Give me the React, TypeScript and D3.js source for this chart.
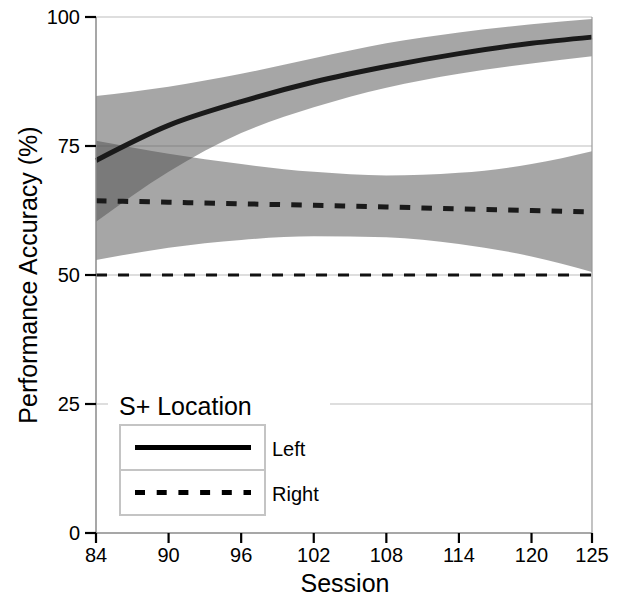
import React from "react";
import * as d3 from "d3";

const sessions = [84, 90, 96, 102, 108, 114, 120, 125];
const leftMean = [72.2, 79.0, 83.6, 87.4, 90.4, 92.9, 94.9, 96.1];
const leftUpper = [84.7, 86.5, 89.0, 92.0, 94.9, 97.0, 98.6, 99.6];
const leftLower = [60.3, 70.0, 77.5, 82.5, 86.3, 89.0, 91.0, 92.4];
const rightMean = [64.4, 64.1, 63.8, 63.5, 63.2, 62.8, 62.5, 62.2];
const rightUpper = [76.0, 73.5, 71.5, 70.0, 69.3, 69.8, 71.5, 74.0];
const rightLower = [52.9, 55.3, 56.8, 57.5, 57.3, 56.0, 53.6, 50.6];
const xTicks = [84, 90, 96, 102, 108, 114, 120, 125];
const yTicks = [0, 25, 50, 75, 100];
const chance = 50;
const legendItems = ["Left", "Right"];

const W = 619, H = 597;
const x0 = 96, x1 = 592, yTop = 17, yBot = 533;
const font = "Liberation Sans, Arial, Helvetica, sans-serif";

export default function App() {
  const x = d3.scaleLinear().domain([84, 125]).range([x0, x1]);
  const y = d3.scaleLinear().domain([0, 100]).range([yBot, yTop]);
  const mk = (vals: number[]) =>
    d3.line<number>().x((_, i) => x(sessions[i])).y((v) => y(v)).curve(d3.curveMonotoneX)(vals) || "";
  const band = (lo: number[], hi: number[]) =>
    d3.area<number>().x((_, i) => x(sessions[i])).y0((_, i) => y(lo[i])).y1((_, i) => y(hi[i])).curve(d3.curveMonotoneX)(sessions) || "";

  const legX = 120, legY = 425, rowH = 45, legW = 145;

  return (
    <svg width={W} height={H} style={{ position: "absolute", left: 0, top: 0 }} fontFamily={font}>
      <rect x={0} y={0} width={W} height={H} fill="#fff" />
      {yTicks.filter((t) => t > 0).map((t) => (
        <line key={t} x1={x0} x2={x1} y1={y(t)} y2={y(t)} stroke="#bdbdbd" strokeWidth={1.2} />
      ))}
      <path d={band(rightLower, rightUpper)} fill="#4d4d4d" fillOpacity={0.5} />
      <path d={band(leftLower, leftUpper)} fill="#4d4d4d" fillOpacity={0.5} />
      <line x1={x0} x2={x1} y1={y(chance)} y2={y(chance)} stroke="#111" strokeWidth={3} strokeDasharray="11,11" />
      <path d={mk(rightMean)} fill="none" stroke="#1a1a1a" strokeWidth={5} strokeDasharray="10.5,11.2" />
      <path d={mk(leftMean)} fill="none" stroke="#1a1a1a" strokeWidth={5} />
      <line x1={x0} x2={x0} y1={yTop} y2={yBot} stroke="#8a8a8a" strokeWidth={1.5} />
      <line x1={x1} x2={x1} y1={yTop} y2={yBot} stroke="#9a9a9a" strokeWidth={1.2} />
      <line x1={x0} x2={x1} y1={yBot} y2={yBot} stroke="#8a8a8a" strokeWidth={1.5} />
      {yTicks.map((t) => (
        <g key={t}>
          <line x1={x0 - 11} x2={x0} y1={y(t)} y2={y(t)} stroke="#000" strokeWidth={2.2} />
          <text x={80} y={y(t) + 7} textAnchor="end" fontSize={20}>{t}</text>
        </g>
      ))}
      {xTicks.map((t) => (
        <g key={t}>
          <line x1={x(t)} x2={x(t)} y1={yBot} y2={yBot + 10} stroke="#000" strokeWidth={2.2} />
          <text x={x(t)} y={562} textAnchor="middle" fontSize={20}>{t}</text>
        </g>
      ))}
      <text x={345} y={592} textAnchor="middle" fontSize={25}>Session</text>
      <text transform={`translate(37,${(yTop + yBot) / 2}) rotate(-90)`} textAnchor="middle" fontSize={25}>Performance Accuracy (%)</text>
      <rect x={108} y={388} width={222} height={30} fill="#fff" />
      <text x={119} y={415} fontSize={25}>S+ Location</text>
      {legendItems.map((lab, i) => (
        <g key={lab}>
          <rect x={legX} y={legY + i * rowH} width={legW} height={rowH} fill="#fff" stroke="#c4c4c4" strokeWidth={2} />
          <line x1={legX + 15} x2={legX + legW - 14} y1={legY + i * rowH + rowH / 2} y2={legY + i * rowH + rowH / 2}
            stroke="#000" strokeWidth={5} strokeDasharray={i === 1 ? "10,11.7" : undefined} />
          <text x={272} y={legY + i * rowH + rowH / 2 + 8} fontSize={20}>{lab}</text>
        </g>
      ))}
    </svg>
  );
}
